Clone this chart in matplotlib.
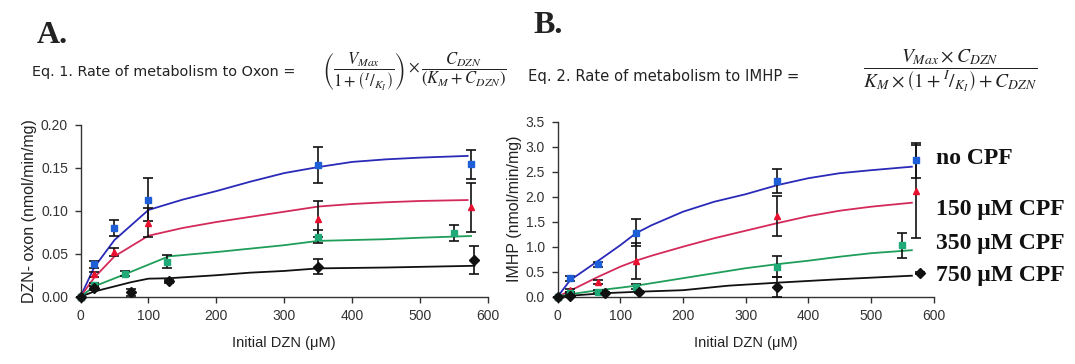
import matplotlib
matplotlib.use("Agg")
import matplotlib.pyplot as plt

# ---------------- Panel A data (DZN -> oxon) ----------------
a_x_blue = [0, 20, 50, 100, 350, 575]
a_y_blue = [0, 0.038, 0.080, 0.113, 0.153, 0.154]
a_e_blue = [0, 0.004, 0.009, 0.025, 0.021, 0.017]

a_x_red = [0, 20, 50, 100, 350, 575]
a_y_red = [0, 0.026, 0.052, 0.086, 0.090, 0.104]
a_e_red = [0, 0.003, 0.005, 0.017, 0.021, 0.029]

a_x_green = [0, 20, 65, 128, 350, 550]
a_y_green = [0, 0.014, 0.027, 0.041, 0.070, 0.074]
a_e_green = [0, 0.002, 0.003, 0.0075, 0.008, 0.009]

a_x_black = [0, 20, 75, 130, 350, 580]
a_y_black = [0, 0.010, 0.005, 0.018, 0.035, 0.043]
a_e_black = [0, 0.002, 0.004, 0.002, 0.0087, 0.016]

# fitted curves
a_fx = [0, 20, 50, 100, 150, 200, 250, 300, 350, 400, 450, 500, 570]
a_fit_blue = [0, 0.034, 0.066, 0.101, 0.113, 0.123, 0.134, 0.144, 0.151, 0.157, 0.160, 0.162, 0.164]
a_fit_red = [0, 0.022, 0.047, 0.071, 0.080, 0.087, 0.093, 0.099, 0.105, 0.108, 0.110, 0.1115, 0.1126]
a_fgx = [0, 20, 65, 130, 200, 250, 300, 350, 400, 450, 500, 575]
a_fit_green = [0, 0.012, 0.026, 0.047, 0.052, 0.056, 0.060, 0.065, 0.066, 0.067, 0.0687, 0.0707]
a_fkx = [0, 20, 75, 100, 130, 200, 250, 300, 350, 450, 580]
a_fit_black = [0, 0.006, 0.017, 0.021, 0.0215, 0.025, 0.028, 0.030, 0.033, 0.034, 0.036]

# ---------------- Panel B data (DZN -> IMHP) ----------------
b_x_blue = [0, 20, 65, 125, 350, 572]
b_y_blue = [0, 0.37, 0.65, 1.28, 2.31, 2.73]
b_e_blue = [0, 0.05, 0.05, 0.27, 0.24, 0.35]

b_x_red = [0, 20, 65, 125, 350, 572]
b_y_red = [0, 0.13, 0.30, 0.72, 1.61, 2.11]
b_e_red = [0, 0.03, 0.04, 0.36, 0.40, 0.93]

b_x_green = [0, 20, 65, 125, 350, 550]
b_y_green = [0, 0.07, 0.10, 0.20, 0.60, 1.03]
b_e_green = [0, 0.02, 0.03, 0.05, 0.21, 0.25]

b_x_black = [0, 20, 75, 130, 350, 578]
b_y_black = [0, 0.01, 0.08, 0.10, 0.20, 0.48]
b_e_black = [0, 0.01, 0.02, 0.02, 0.20, 0.02]

b_fx = [0, 20, 65, 100, 125, 150, 200, 250, 300, 350, 400, 450, 500, 565]
b_fit_blue = [0, 0.33, 0.72, 1.03, 1.27, 1.43, 1.70, 1.90, 2.05, 2.23, 2.37, 2.47, 2.53, 2.60]
b_fit_red = [0, 0.12, 0.40, 0.60, 0.72, 0.82, 1.00, 1.17, 1.32, 1.47, 1.61, 1.72, 1.80, 1.88]
b_fgx = [0, 20, 65, 100, 125, 200, 300, 350, 400, 450, 500, 565]
b_fit_green = [0, 0.05, 0.13, 0.18, 0.22, 0.37, 0.57, 0.65, 0.72, 0.80, 0.87, 0.93]
b_fkx = [0, 20, 75, 130, 200, 272, 350, 450, 565]
b_fit_black = [0, 0.02, 0.07, 0.10, 0.13, 0.22, 0.28, 0.35, 0.42]

x_ticks = [0, 100, 200, 300, 400, 500, 600]
a_yticks = [0.00, 0.05, 0.10, 0.15, 0.20]
b_yticks = [0.0, 0.5, 1.0, 1.5, 2.0, 2.5, 3.0, 3.5]
series_labels = ["no CPF", "150 \u03bcM CPF", "350 \u03bcM CPF", "750 \u03bcM CPF"]

C_BLUE_L, C_BLUE_M = "#2a2ab8", "#1e5fd8"
C_RED_L, C_RED_M = "#d42a5a", "#e8102e"
C_GRN_L, C_GRN_M = "#1f9e5a", "#1faa78"
C_BLK = "#111111"

plt.rcParams["mathtext.fontset"] = "stix"

fig = plt.figure(figsize=(10.75, 3.64), dpi=100)
W, H = 1075, 364

def ax_at(x0, x1, ytop, ybot):
    return fig.add_axes([x0 / W, 1 - ybot / H, (x1 - x0) / W, (ybot - ytop) / H])

axA = ax_at(80.5, 488, 125, 296.7)
axB = ax_at(557.6, 933.8, 121.7, 296.7)

def style(ax, yticks, yfmt, ylabel):
    for s in ("top", "right"):
        ax.spines[s].set_visible(False)
    for s in ("left", "bottom"):
        ax.spines[s].set_color("#333333")
        ax.spines[s].set_linewidth(1.0)
    ax.set_xlim(0, 600)
    ax.set_ylim(yticks[0], yticks[-1])
    ax.set_xticks(x_ticks)
    ax.set_yticks(yticks)
    ax.set_yticklabels([yfmt.format(v) for v in yticks])
    ax.tick_params(direction="out", length=4, width=1.0, color="#333333",
                   labelsize=10, labelcolor="#333333", pad=5)
    for lab in ax.get_xticklabels() + ax.get_yticklabels():
        lab.set_family("Liberation Sans")
    ax.set_xlabel("Initial DZN (\u03bcM)", fontsize=10.5, family="Liberation Sans",
                  color="#222222", labelpad=9)
    ax.set_ylabel(ylabel, fontsize=11.5, family="Liberation Sans", color="#222222",
                  labelpad=3)
    ax.patch.set_alpha(0)

style(axA, a_yticks, "{:.2f}", "DZN- oxon (nmol/min/mg)")
style(axB, b_yticks, "{:.1f}", "IMHP (nmol/min/mg)")

def draw(ax, fx, fy, x, y, e, lc, mc, marker):
    ax.plot(fx, fy, color=lc, lw=1.3, zorder=2, clip_on=False)
    ax.errorbar(x, y, yerr=e, fmt="none", ecolor=C_BLK, elinewidth=1.2,
                capsize=3.5, capthick=1.2, zorder=3, clip_on=False)
    ax.plot(x, y, linestyle="none", marker=marker, ms=5, color=mc,
            markeredgecolor=mc, zorder=4, clip_on=False)

draw(axA, a_fx, a_fit_blue, a_x_blue, a_y_blue, a_e_blue, C_BLUE_L, C_BLUE_M, "s")
draw(axA, a_fx, a_fit_red, a_x_red, a_y_red, a_e_red, C_RED_L, C_RED_M, "^")
draw(axA, a_fgx, a_fit_green, a_x_green, a_y_green, a_e_green, C_GRN_L, C_GRN_M, "s")
draw(axA, a_fkx, a_fit_black, a_x_black, a_y_black, a_e_black, C_BLK, C_BLK, "D")

draw(axB, b_fx, b_fit_blue, b_x_blue, b_y_blue, b_e_blue, C_BLUE_L, C_BLUE_M, "s")
draw(axB, b_fx, b_fit_red, b_x_red, b_y_red, b_e_red, C_RED_L, C_RED_M, "^")
draw(axB, b_fgx, b_fit_green, b_x_green, b_y_green, b_e_green, C_GRN_L, C_GRN_M, "s")
draw(axB, b_fkx, b_fit_black, b_x_black, b_y_black, b_e_black, C_BLK, C_BLK, "D")

# panel letters
fig.text(37 / W, 1 - 43 / H, "A.", fontsize=23, fontweight="bold",
         family="Liberation Serif", ha="left", va="baseline", color="#222222")
fig.text(533 / W, 1 - 33 / H, "B.", fontsize=23, fontweight="bold",
         family="Liberation Serif", ha="left", va="baseline", color="#222222")

# equations
fig.text(32 / W, 1 - 76 / H, "Eq. 1. Rate of metabolism to Oxon =", fontsize=10.4,
         family="DejaVu Sans", ha="left", va="baseline", color="#222222")
fig.text(322 / W, 1 - 72 / H,
         r"$\left(\dfrac{V_{Max}}{1+\left(^{I}/_{K_I}\right)}\right)\times\dfrac{C_{DZN}}{(K_M+C_{DZN})}$",
         fontsize=12, ha="left", va="center", color="#222222")
fig.text(528 / W, 1 - 81 / H, "Eq. 2. Rate of metabolism to IMHP =", fontsize=10.6,
         family="DejaVu Sans", ha="left", va="baseline", color="#222222")
fig.text(950 / W, 1 - 71 / H,
         r"$\dfrac{V_{Max}\times C_{DZN}}{K_M\times\left(1+^{I}/_{K_I}\right)+C_{DZN}}$",
         fontsize=14, ha="center", va="center", color="#222222")

# series labels right of panel B
label_y = [158, 210, 243, 275]
for lab, yy in zip(series_labels, label_y):
    fig.text(936 / W, 1 - yy / H, lab, fontsize=17, fontweight="bold",
             family="Liberation Serif", ha="left", va="center", color="#111111")

fig.savefig("out.png", dpi=100, facecolor="white")
